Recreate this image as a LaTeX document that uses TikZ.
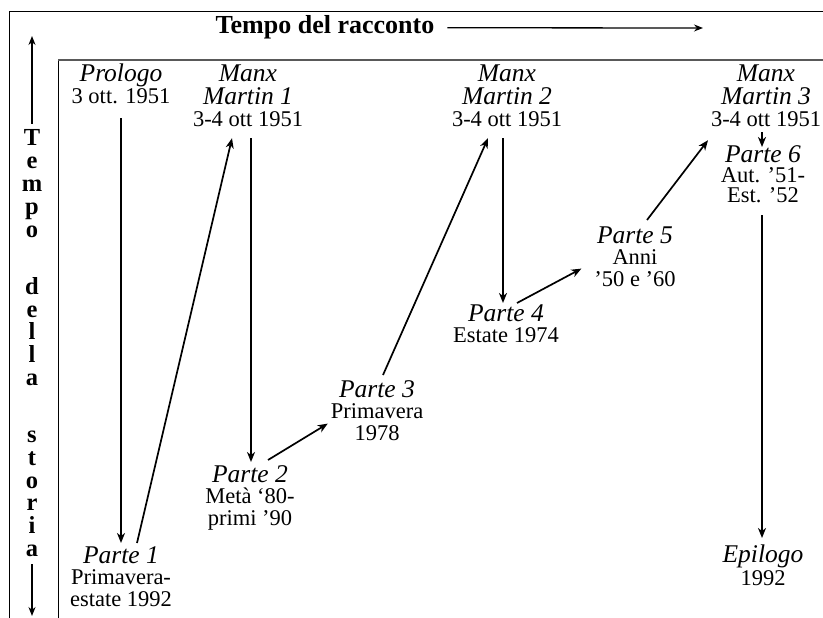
\documentclass[tikz,border=0pt]{standalone}
\usepackage{fontspec}
\setmainfont{Liberation Serif}
\usetikzlibrary{arrows.meta,calc}
\newcommand\fst{\rule{0pt}{20pt}}
\newcommand\ital[1]{{\fontsize{25.5}{21.5}\selectfont\itshape #1}}
\tikzset{
  lbl/.style={align=center, inner sep=0pt, outer sep=0pt, anchor=north,
    font=\fontsize{22.5}{21.5}\selectfont},
  arr/.style={line width=1.7pt, -{Stealth[length=10pt,width=8pt,inset=3pt]}},
  axarr/.style={line width=1.5pt, -{Stealth[length=9pt,width=7pt,inset=3pt]}},
  toparr/.style={line width=1.3pt, -{Stealth[length=9pt,width=7pt,inset=3pt]}},
  vl/.style={anchor=base, inner sep=0pt, font=\fontsize{24.5}{24.5}\selectfont\bfseries},
  frame/.style={line width=0.8pt, black},
  innertop/.style={line width=1.6pt, black!65}
}
\begin{document}
\begin{tikzpicture}[x=1pt,y=-1pt]
\useasboundingbox (0,0) rectangle (823,618);
% frame
\draw[frame] (9,618) -- (9,11) -- (823,11);
\draw[frame] (58,618) -- (58,60);
\draw[innertop] (58,60) -- (823,60);
% horizontal axis
\node[anchor=base, inner sep=0pt, font=\fontsize{26}{26}\selectfont\bfseries] (tr) at (325,34) {Tempo del racconto};
\coordinate (rtip) at (703,28);
\draw[toparr] ($(tr.east)+(13,0)$) -- (rtip);
% vertical axis
\foreach \c/\i [count=\k] in {T/0,e/1,m/2,p/3,o/4,d/6.5,e/7.5,l/8.5,l/9.5,a/10.5,s/13,t/14,o/15,r/16,i/17,a/18}
  \node[vl] (v\k) at (32,{146+\i*22.8}) {\c};
\coordinate (axtop) at (32,36);
\coordinate (axbot) at (32,616);
\draw[axarr] ($(v1.north)+(0,-6)$) -- (axtop);
\draw[axarr] ($(v16.base)+(0,8)$) -- (axbot);
% nodes
\node[lbl] (prologo) at (121,61) {\ital{\fst Prologo}\\[0.5pt]3 ott. 1951};
\node[lbl] (mm1) at (248,62) {\ital{\fst Manx}\\[1pt]\ital{Martin 1}\\[1pt]3-4 ott 1951};
\node[lbl] (mm2) at (507,62) {\ital{\fst Manx}\\[1pt]\ital{Martin 2}\\[1pt]3-4 ott 1951};
\node[lbl] (mm3) at (766,62) {\ital{\fst Manx}\\[1pt]\ital{Martin 3}\\[1pt]3-4 ott 1951};
\node[lbl] (p6) at (763,142) {\ital{\fst Parte 6}\\[-1.5pt]Aut. ’51-\\[-1.5pt]Est. ’52};
\node[lbl] (p5) at (635,223) {\ital{\fst Parte 5}\\Anni\\’50 e ’60};
\node[lbl] (p4) at (506,301) {\ital{\fst Parte 4}\\Estate 1974};
\node[lbl] (p3) at (377,377) {\ital{\fst Parte 3}\\Primavera\\1978};
\node[lbl] (p2) at (250,462) {\ital{\fst Parte 2}\\Metà ‘80-\\primi ’90};
\node[lbl] (p1) at (121,543) {\ital{\fst Parte 1}\\Primavera-\\estate 1992};
\node[lbl] (epi) at (763,542) {\ital{\fst Epilogo}\\[1.5pt]1992};
% connectors
\draw[arr] ($(prologo.south)+(0,15)$) -- (p1.north);
\draw[arr] ($(p1.north)+(16,0)$) -- ($(mm1.south)+(-16,11)$);
\draw[arr] ($(mm1.south)+(3,11)$) -- ($(p2.north)+(1,0)$);
\draw[arr] ($(p2.north)+(18,-2)$) -- ($(p3.west)+(-3,15)$);
\draw[arr] ($(p3.north)+(6,-2)$) -- ($(mm2.south)+(-19,11)$);
\draw[arr] ($(mm2.south)+(-4,11)$) -- ($(p4.north)+(-3,2)$);
\draw[arr] ($(p4.north)+(11,2)$) -- ($(p5.west)+(-13,14)$);
\draw[arr] ($(p5.north)+(12,-3)$) -- ($(mm3.south)+(-58,13)$);
\draw[arr] ($(mm3.south)+(-4,5)$) -- ($(p6.north)+(-1,5)$);
\draw[arr] ($(p6.south)+(-1,13)$) -- ($(epi.north)+(-1,-4)$);
\end{tikzpicture}
\end{document}
